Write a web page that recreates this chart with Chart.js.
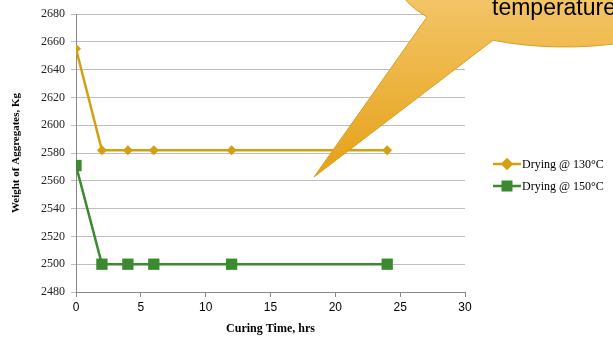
<!DOCTYPE html>
<html lang="en">
<head>
    <meta charset="UTF-8">
    <title>Weight of Aggregates vs Curing Time</title>
    <style>
        body { margin: 0; background: #fff; }
        canvas { display: block; }
    </style>
    <script src="https://cdn.jsdelivr.net/npm/chart.js"></script>
</head>
<body>
    <canvas id="weightChart" width="613" height="337"></canvas>

    <script>
        // data
        const curingHours = [0, 2, 4, 6, 12, 24];
        const weight130 = [2655, 2582, 2582, 2582, 2582, 2582];
        const weight150 = [2571, 2500, 2500, 2500, 2500, 2500];
        const seriesNames = ['Drying @ 130°C', 'Drying @ 150°C'];
        const yTicks = [2480, 2500, 2520, 2540, 2560, 2580, 2600, 2620, 2640, 2660, 2680];
        const xTicks = [0, 5, 10, 15, 20, 25, 30];

        const gold = '#d4a012';
        const green = '#3b8a2f';

        function toPoints(xs, ys) {
            return xs.map((x, i) => ({ x: x, y: ys[i] }));
        }

        // legend drawn with line + marker like the original
        const sideLegend = {
            id: 'sideLegend',
            afterDraw(chart) {
                const ctx = chart.ctx;
                const rows = [164, 186];
                chart.data.datasets.forEach((ds, i) => {
                    const y = rows[i];
                    ctx.save();
                    ctx.strokeStyle = ds.borderColor;
                    ctx.lineWidth = 2.5;
                    ctx.beginPath();
                    ctx.moveTo(493, y);
                    ctx.lineTo(521, y);
                    ctx.stroke();
                    Chart.helpers.drawPoint(ctx, {
                        pointStyle: ds.pointStyle,
                        radius: ds.pointStyle === 'rect' ? 6 : 4.5,
                        borderWidth: 1
                    }, 507, y);
                    ctx.fillStyle = ds.borderColor;
                    ctx.fill();
                    ctx.fillStyle = '#000';
                    ctx.font = '12px "Liberation Serif", serif';
                    ctx.textBaseline = 'middle';
                    ctx.fillText(ds.label, 522, y + 1);
                    ctx.restore();
                });
            }
        };

        // speech bubble in the top right corner
        const callout = {
            id: 'callout',
            afterDraw(chart) {
                const ctx = chart.ctx;
                ctx.save();
                const grad = ctx.createLinearGradient(0, 0, 0, 178);
                grad.addColorStop(0, '#f3c466');
                grad.addColorStop(1, '#e5a116');
                const cx = 565, cy = -25, rx = 170, ry = 72;
                const angR = Math.acos((493 - cx) / rx);
                const angL = Math.acos((427 - cx) / rx);
                ctx.beginPath();
                ctx.ellipse(cx, cy, rx, ry, 0, angR, -0.3, true);
                ctx.lineTo(700, -100);
                ctx.lineTo(300, -100);
                ctx.ellipse(cx, cy, rx, ry, 0, Math.PI + 0.3, angL, true);
                ctx.lineTo(314, 177);
                ctx.closePath();
                ctx.fillStyle = grad;
                ctx.fill();
                ctx.strokeStyle = '#d9a11c';
                ctx.lineWidth = 1;
                ctx.stroke();
                ctx.fillStyle = '#000';
                ctx.font = '23px "Liberation Sans", Arial, sans-serif';
                ctx.textBaseline = 'alphabetic';
                ctx.fillText('temperature', 492, 15);
                ctx.restore();
            }
        };

        new Chart(document.getElementById('weightChart'), {
            type: 'line',
            data: {
                datasets: [{
                    label: seriesNames[0],
                    data: toPoints(curingHours, weight130),
                    borderColor: gold,
                    backgroundColor: gold,
                    pointStyle: 'rectRot',
                    pointRadius: 5,
                    pointBorderWidth: 0,
                    borderWidth: 2.5,
                    tension: 0
                }, {
                    label: seriesNames[1],
                    data: toPoints(curingHours, weight150),
                    borderColor: green,
                    backgroundColor: green,
                    pointStyle: 'rect',
                    pointRadius: 8,
                    pointBorderWidth: 0,
                    borderWidth: 2.5,
                    tension: 0
                }]
            },
            options: {
                responsive: false,
                animation: false,
                layout: { padding: { left: 6, right: 148, top: 14, bottom: 0 } },
                plugins: {
                    legend: { display: false },
                    tooltip: { enabled: false }
                },
                scales: {
                    x: {
                        type: 'linear',
                        min: xTicks[0],
                        max: xTicks[xTicks.length - 1],
                        afterBuildTicks: s => { s.ticks = xTicks.map(v => ({ value: v })); },
                        grid: { drawOnChartArea: false, tickLength: 5, color: '#888' },
                        border: { color: '#888' },
                        ticks: {
                            color: '#000',
                            padding: 3,
                            maxRotation: 0,
                            font: { family: '"Liberation Sans", Arial, sans-serif', size: 12 }
                        },
                        title: {
                            display: true,
                            text: 'Curing Time, hrs',
                            color: '#000',
                            padding: { top: 3, bottom: 1 },
                            font: { family: '"Liberation Serif", serif', size: 12, weight: 'bold' }
                        },
                        afterFit: s => { s.height = 337 - 292; }
                    },
                    y: {
                        min: yTicks[0],
                        max: yTicks[yTicks.length - 1],
                        afterBuildTicks: s => { s.ticks = yTicks.map(v => ({ value: v })); },
                        grid: { color: '#bdbdbd', tickLength: 5 },
                        border: { color: '#888' },
                        ticks: {
                            color: '#222',
                            padding: 6,
                            callback: v => String(v),
                            font: { family: '"Liberation Serif", serif', size: 12 }
                        },
                        title: {
                            display: true,
                            text: 'Weight of Aggregates, Kg',
                            color: '#000',
                            padding: { top: 4, bottom: 4 },
                            font: { family: '"Liberation Serif", serif', size: 11, weight: 'bold' }
                        },
                        afterFit: s => { s.width = 76 - 6; }
                    }
                }
            },
            plugins: [callout, sideLegend]
        });
    </script>
</body>
</html>
